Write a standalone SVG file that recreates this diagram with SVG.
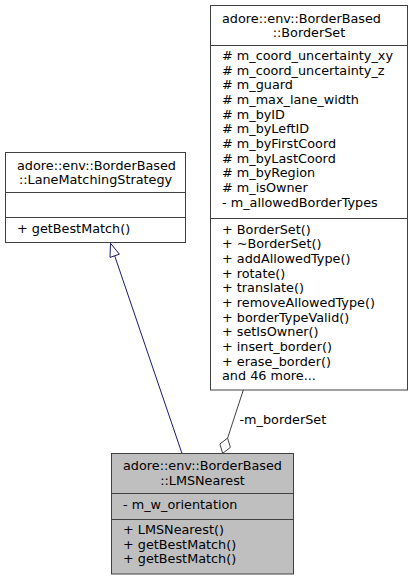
<svg xmlns="http://www.w3.org/2000/svg" width="413" height="580" viewBox="0 0 413 580">
<style>
  text { font-family: "DejaVu Sans", "Liberation Sans", sans-serif; font-size: 12.8px; fill: #000; }
  .box { fill: #ffffff; stroke: #404040; stroke-width: 1; }
  .cur { fill: #bfbfbf; stroke: #404040; stroke-width: 1; }
  .div { stroke: #404040; stroke-width: 1; fill: none; }
  .mid { text-anchor: middle; }
  .inh { stroke: #191970; stroke-width: 1; fill: none; }
  .inhHead { stroke: #191970; stroke-width: 1; fill: #ffffff; }
  .use { stroke: #404040; stroke-width: 1; fill: none; }
  .useHead { stroke: #404040; stroke-width: 1; fill: #ffffff; }
</style>
<rect width="413" height="580" fill="#ffffff"/>
<g id="connectors">
  <path class="inh" d="M182,453.5 L114.7,255.8"/>
  <polygon class="inhHead" points="110.5,243.3 119.4,254.2 110,257.4"/>
  <path class="use" d="M243.3,390 L227.6,438.1"/>
  <polygon class="useHead" points="227.6,438.1 230.4,447.4 222.7,453.3 219.9,444"/>
  <text x="239.5" y="424">-m_borderSet</text>
</g>
<g id="node-BorderSet">
  <rect class="box" x="210.5" y="5.5" width="197" height="384.5"/>
  <line class="div" x1="210.5" y1="45.5" x2="407.5" y2="45.5"/>
  <line class="div" x1="210.5" y1="218.5" x2="407.5" y2="218.5"/>
  <text x="222" y="22.5">adore::env::BorderBased</text>
  <text class="mid" x="309" y="37.2">::BorderSet</text>
  <text x="222" y="60"># m_coord_uncertainty_xy</text>
  <text x="222" y="74.67"># m_coord_uncertainty_z</text>
  <text x="222" y="89.33"># m_guard</text>
  <text x="222" y="104"># m_max_lane_width</text>
  <text x="222" y="118.67"># m_byID</text>
  <text x="222" y="133.33"># m_byLeftID</text>
  <text x="222" y="148"># m_byFirstCoord</text>
  <text x="222" y="162.67"># m_byLastCoord</text>
  <text x="222" y="177.33"># m_byRegion</text>
  <text x="222" y="192"># m_isOwner</text>
  <text x="222" y="206.67">- m_allowedBorderTypes</text>
  <text x="222" y="233.5">+ BorderSet()</text>
  <text x="222" y="248.2">+ ~BorderSet()</text>
  <text x="222" y="262.8">+ addAllowedType()</text>
  <text x="222" y="277.5">+ rotate()</text>
  <text x="222" y="292.2">+ translate()</text>
  <text x="222" y="306.8">+ removeAllowedType()</text>
  <text x="222" y="321.5">+ borderTypeValid()</text>
  <text x="222" y="336.2">+ setIsOwner()</text>
  <text x="222" y="350.8">+ insert_border()</text>
  <text x="222" y="365.5">+ erase_border()</text>
  <text x="222" y="380.2">and 46 more...</text>
</g>
<g id="node-LaneMatchingStrategy">
  <rect class="box" x="5.5" y="152.5" width="180" height="90"/>
  <line class="div" x1="5.5" y1="192.5" x2="185.5" y2="192.5"/>
  <line class="div" x1="5.5" y1="217.5" x2="185.5" y2="217.5"/>
  <text x="17" y="169.5">adore::env::BorderBased</text>
  <text class="mid" x="95.5" y="184">::LaneMatchingStrategy</text>
  <text x="17" y="232.5">+ getBestMatch()</text>
</g>
<g id="node-LMSNearest">
  <rect class="cur" x="111.5" y="453.5" width="182" height="120.5"/>
  <line class="div" x1="111.5" y1="493.5" x2="293.5" y2="493.5"/>
  <line class="div" x1="111.5" y1="519.5" x2="293.5" y2="519.5"/>
  <text x="123" y="470">adore::env::BorderBased</text>
  <text class="mid" x="202.5" y="484.5">::LMSNearest</text>
  <text x="123" y="508.5">- m_w_orientation</text>
  <text x="123" y="534">+ LMSNearest()</text>
  <text x="123" y="548.5">+ getBestMatch()</text>
  <text x="123" y="563">+ getBestMatch()</text>
</g>
</svg>
